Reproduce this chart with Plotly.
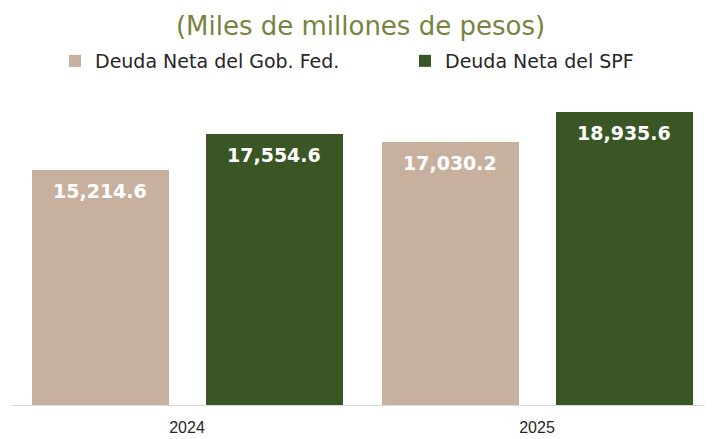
import plotly.graph_objects as go

years = ["2024", "2025"]
gob_fed = [15214.6, 17030.2]
spf = [17554.6, 18935.6]
series_names = ["Deuda Neta del Gob. Fed.", "Deuda Neta del SPF"]
colors = ["#C8B09F", "#3A5624"]

# The page body has an 8px margin, so the figure is drawn 8px smaller
W, H = 705, 431
plot_w = 700
bar_px = 137
center_off_px = 87
bw = bar_px / (plot_w / 2)
FONT = "DejaVu Sans"

fig = go.Figure()
offsets = [(-center_off_px - bar_px / 2) / 350, (center_off_px - bar_px / 2) / 350]
legends = ["legend", "legend2"]
for name, vals, col, off, lg in zip(series_names, [gob_fed, spf], colors, offsets, legends):
    fig.add_trace(go.Bar(
        x=years, y=vals, name=name, marker=dict(color=col, line=dict(width=0)),
        width=bw, offset=off, hoverinfo="skip", legend=lg,
    ))

annotations = []
for vals, sgn in zip([gob_fed, spf], [-1, 1]):
    for i, v in enumerate(vals):
        annotations.append(dict(
            x=i, y=v, xref="x", yref="y", text=f"{v:,.1f}", showarrow=False,
            xanchor="center", yanchor="top", xshift=sgn * center_off_px, yshift=-8,
            font=dict(family=FONT, size=19, color="white", weight="bold"),
        ))

leg_common = dict(orientation="h", xanchor="left", y=1 - 53 / H, yanchor="middle",
                  xref="container", yref="container",
                  font=dict(family=FONT, size=19, color="#262626"),
                  itemclick=False, itemdoubleclick=False, bgcolor="rgba(0,0,0,0)")

fig.update_layout(
    width=W, height=H,
    margin=dict(l=4, r=1, t=88, b=34, autoexpand=False),
    paper_bgcolor="white", plot_bgcolor="white",
    showlegend=True,
    title=dict(text="(Miles de millones de pesos)", x=0.5, xanchor="center",
               y=1 - 18 / H, yanchor="middle", yref="container",
               font=dict(family=FONT, size=26, color="#77843F")),
    legend=dict(x=47 / W, **leg_common),
    legend2=dict(x=397 / W, **leg_common),
    xaxis=dict(type="category", range=[-0.5, 1.5], showline=True, linecolor="#D9D9D9",
               linewidth=1, ticks="", showgrid=False, ticklabelstandoff=8,
               tickfont=dict(family="Liberation Sans", size=16, color="#262626")),
    yaxis=dict(range=[0, 20000], visible=False, showgrid=False, zeroline=False),
    annotations=annotations,
    bargap=0, bargroupgap=0,
)

fig.write_html("out.html")
